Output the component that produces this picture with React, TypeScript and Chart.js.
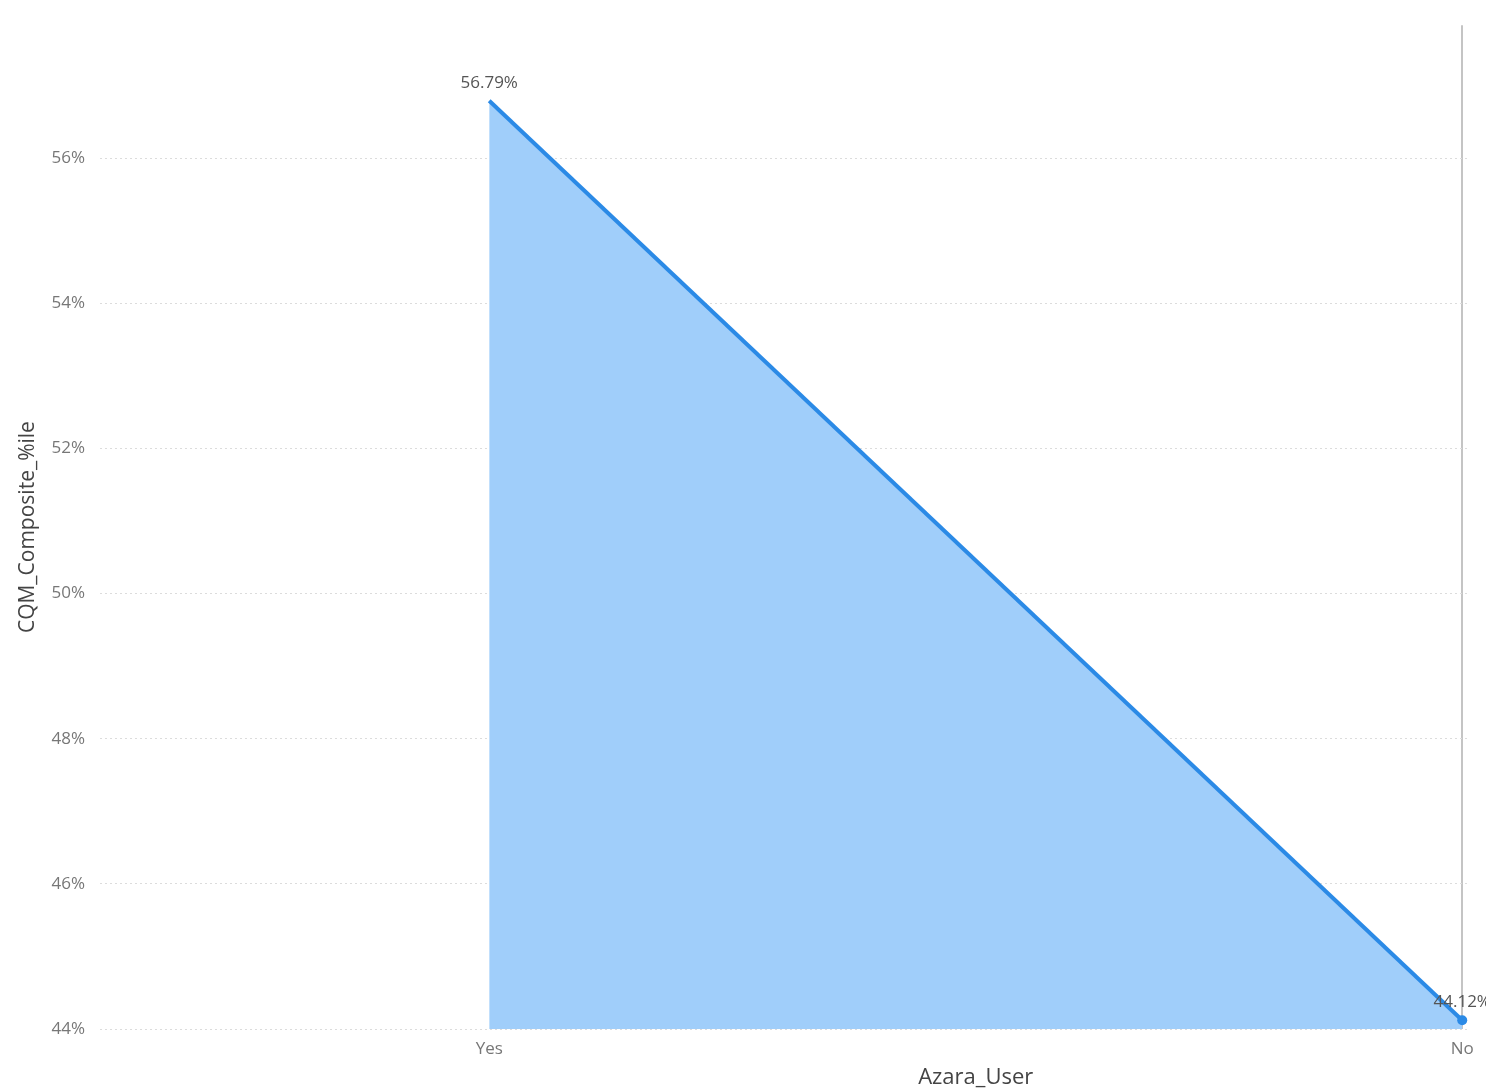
import React, { useEffect, useRef } from 'react';
import { Chart, registerables } from 'chart.js';

Chart.register(...registerables);

const categories = ['Yes', 'No'];
const values = [56.79, 44.12];
const dataLabels = ['56.79%', '44.12%'];
const yTicks = [44, 46, 48, 50, 52, 54, 56];
const xTitle = 'Azara_User';
const yTitle = 'CQM_Composite_%ile';

const FONT = '"Open Sans", "Liberation Sans", sans-serif';

export default function App() {
  const ref = useRef<HTMLCanvasElement>(null);

  useEffect(() => {
    document.body.style.margin = '0';
    document.body.style.overflow = 'hidden';
    const canvas = ref.current;
    if (!canvas) return;

    const points = categories.map((c, i) => ({ x: i + 1, y: values[i] }));

    const labelPlugin = {
      id: 'labels',
      afterDatasetsDraw(chart: any) {
        const ctx = chart.ctx;
        const meta = chart.getDatasetMeta(0);
        ctx.save();
        ctx.font = `17px ${FONT}`;
        ctx.fillStyle = '#555';
        ctx.textAlign = 'center';
        ctx.textBaseline = 'middle';
        meta.data.forEach((el: any, i: number) => {
          ctx.fillText(dataLabels[i], el.x, el.y - 18);
        });
        const xs = chart.scales.x;
        const mid = (xs.getPixelForValue(1) + xs.getPixelForValue(categories.length)) / 2;
        ctx.font = `22px ${FONT}`;
        ctx.fillStyle = '#444';
        ctx.fillText(xTitle, mid, 1078);
        ctx.restore();
      },
    };

    const chart = new Chart(canvas, {
      type: 'line',
      data: {
        datasets: [
          {
            data: points,
            borderColor: '#2B8AE6',
            borderWidth: 4,
            backgroundColor: '#A0CEFA',
            fill: 'start',
            pointRadius: (ctx: any) => (ctx.dataIndex === values.length - 1 ? 5 : 0),
            pointBackgroundColor: '#2B8AE6',
            pointBorderWidth: 0,
            tension: 0,
          },
        ],
      },
      options: {
        animation: false,
        responsive: false,
        maintainAspectRatio: false,
        layout: { padding: { top: 0, right: 16, left: 0, bottom: 0 } },
        plugins: { legend: { display: false }, tooltip: { enabled: false } },
        scales: {
          x: {
            type: 'linear',
            min: 0.6,
            max: 2.008,
            afterBuildTicks: (scale: any) => {
              scale.ticks = categories.map((c, i) => ({ value: i + 1 }));
            },
            afterFit: (scale: any) => {
              scale.height = 61;
            },
            ticks: {
              callback: (v: any) => categories[Math.round(v) - 1] ?? '',
              color: '#777',
              font: { size: 17, family: FONT },
              padding: 10,
              maxRotation: 0,
              autoSkip: false,
            },
            grid: {
              color: (ctx: any) => (ctx.tick && ctx.tick.value === categories.length ? '#c4c4c4' : 'rgba(0,0,0,0)'),
              lineWidth: 2,
              drawTicks: false,
            },
            border: { display: false },
          },
          y: {
            type: 'linear',
            min: 44,
            max: 57.83,
            afterBuildTicks: (scale: any) => {
              scale.ticks = yTicks.map((v) => ({ value: v }));
            },
            afterFit: (scale: any) => {
              scale.width = 100;
            },
            ticks: {
              callback: (v: any) => `${v}%`,
              color: '#777',
              font: { size: 17, family: FONT },
              padding: 15,
            },
            grid: {
              color: '#dcdcdc',
              lineWidth: 1,
              drawTicks: false,
            },
            border: { display: false, dash: [2, 3] },
            title: {
              display: true,
              text: yTitle,
              color: '#444',
              font: { size: 21, family: FONT },
              padding: { top: 15, bottom: 0 },
            },
          },
        },
      },
      plugins: [labelPlugin],
    } as any);

    return () => chart.destroy();
  }, []);

  return (
    <div style={{ width: 1486, height: 1090 }}>
      <canvas ref={ref} width={1486} height={1090} style={{ display: 'block' }} />
    </div>
  );
}
